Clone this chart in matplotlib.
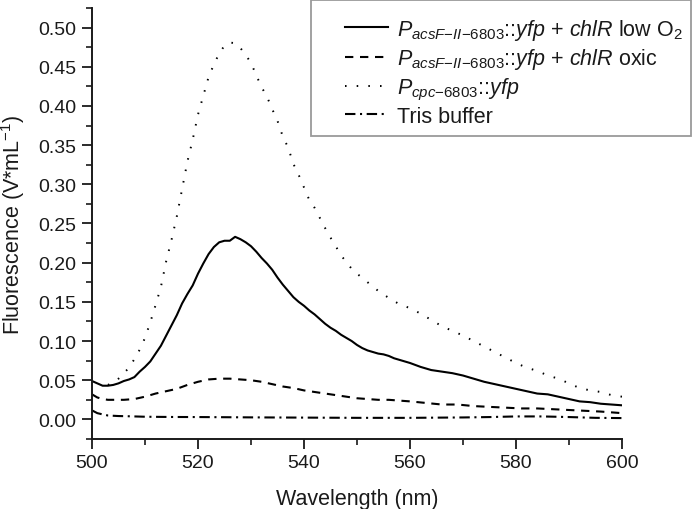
import matplotlib
matplotlib.use("Agg")
import matplotlib.pyplot as plt
from matplotlib.ticker import MultipleLocator
from matplotlib.patches import Rectangle

# ---------------- data ----------------
wl_low = [500, 501, 502, 503, 504, 505, 506, 507, 508, 509, 510, 511, 512, 513, 514,
          515, 516, 517, 518, 519, 520, 521, 522, 523, 524, 525, 526, 527, 528, 529,
          530, 531, 532, 533, 534, 535, 536, 537, 538, 539, 540, 541, 542, 543, 544,
          545, 546, 547, 548, 549, 550, 551, 552, 553, 554, 555, 556, 557, 558, 559,
          560, 562, 564, 566, 568, 570, 572, 574, 576, 578, 580, 582, 584, 586, 588,
          590, 592, 594, 596, 598, 600]
low_o2 = [0.049, 0.046, 0.043, 0.043, 0.044, 0.046, 0.049, 0.051, 0.054, 0.061, 0.067,
          0.074, 0.084, 0.094, 0.107, 0.120, 0.133, 0.148, 0.160, 0.171, 0.186, 0.199,
          0.211, 0.220, 0.226, 0.228, 0.228, 0.233, 0.230, 0.226, 0.221, 0.214, 0.206,
          0.199, 0.191, 0.181, 0.172, 0.164, 0.156, 0.150, 0.145, 0.139, 0.134, 0.128,
          0.122, 0.117, 0.113, 0.108, 0.104, 0.100, 0.095, 0.091, 0.088, 0.086, 0.084,
          0.083, 0.081, 0.078, 0.076, 0.074, 0.072, 0.067, 0.063, 0.061, 0.059, 0.056,
          0.052, 0.048, 0.045, 0.042, 0.039, 0.036, 0.033, 0.032, 0.029, 0.026, 0.023,
          0.022, 0.020, 0.019, 0.018]

wl_oxic = [500, 501, 502, 503, 504, 505, 506, 508, 510, 512, 514, 516, 518, 520, 522,
           524, 526, 528, 530, 532, 534, 536, 538, 540, 542, 544, 546, 548, 550, 552,
           554, 556, 558, 560, 563, 566, 569, 572, 575, 578, 581, 584, 587, 590, 593,
           596, 600]
oxic = [0.032, 0.028, 0.026, 0.025, 0.025, 0.025, 0.025, 0.026, 0.029, 0.033, 0.036,
        0.039, 0.044, 0.048, 0.051, 0.052, 0.052, 0.051, 0.050, 0.048, 0.045, 0.042,
        0.040, 0.037, 0.035, 0.033, 0.031, 0.029, 0.027, 0.026, 0.025, 0.025, 0.024,
        0.023, 0.021, 0.019, 0.019, 0.017, 0.016, 0.015, 0.014, 0.014, 0.013, 0.012,
        0.011, 0.010, 0.008]

wl_cpc = [503, 504, 505, 506, 507, 508, 509, 510, 511, 512, 513, 514, 515, 516, 517,
          518, 519, 520, 521, 522, 523, 524, 525, 526, 527, 528, 529, 530, 531, 532,
          533, 534, 535, 536, 537, 538, 539, 540, 541, 542, 543, 544, 545, 546, 547,
          548, 549, 550, 552, 554, 556, 558, 560, 562, 564, 566, 568, 570, 572, 574,
          576, 578, 580, 582, 584, 586, 588, 590, 592, 594, 596, 598, 600]
cpc = [0.044, 0.047, 0.052, 0.059, 0.066, 0.077, 0.089, 0.104, 0.124, 0.146, 0.169,
       0.202, 0.229, 0.259, 0.294, 0.329, 0.357, 0.389, 0.413, 0.437, 0.453, 0.467,
       0.477, 0.481, 0.480, 0.474, 0.465, 0.455, 0.439, 0.424, 0.412, 0.396, 0.381,
       0.361, 0.347, 0.326, 0.312, 0.296, 0.280, 0.270, 0.257, 0.244, 0.232, 0.221,
       0.209, 0.201, 0.192, 0.186, 0.175, 0.164, 0.155, 0.147, 0.142, 0.135, 0.127,
       0.119, 0.113, 0.107, 0.100, 0.093, 0.086, 0.079, 0.072, 0.066, 0.062, 0.056,
       0.052, 0.046, 0.040, 0.037, 0.035, 0.031, 0.029]

wl_tris = [500, 501, 502, 503, 505, 507, 510, 515, 520, 530, 540, 550, 560, 570, 575,
           580, 585, 590, 595, 600]
tris = [0.0115, 0.008, 0.0064, 0.005, 0.0043, 0.004, 0.0034, 0.0031, 0.003, 0.0026,
        0.0023, 0.002, 0.002, 0.0025, 0.003, 0.0038, 0.0038, 0.003, 0.002, 0.0017]

labels = [
    r'$\mathit{P}_{\mathit{acsF{-}II{-}6803}}$::$\mathit{yfp}$ + $\mathit{chlR}$ low O$_2$',
    r'$\mathit{P}_{\mathit{acsF{-}II{-}6803}}$::$\mathit{yfp}$ + $\mathit{chlR}$ oxic',
    r'$\mathit{P}_{\mathit{cpc{-}6803}}$::$\mathit{yfp}$',
    'Tris buffer',
]
xlabel = 'Wavelength (nm)'
ylabel = r'Fluorescence (V*mL$^{-1}$)'

# ---------------- style ----------------
plt.rcParams['font.family'] = ['Liberation Sans', 'DejaVu Sans']
plt.rcParams['mathtext.fontset'] = 'custom'
plt.rcParams['mathtext.rm'] = 'Liberation Sans'
plt.rcParams['mathtext.it'] = 'Liberation Sans:italic'
plt.rcParams['mathtext.bf'] = 'Liberation Sans:bold'

W, H = 693, 510
fig = plt.figure(figsize=(W / 100, H / 100), dpi=100)
ax = fig.add_axes([92 / W, 1 - 440 / H, 530 / W, 431 / H])

ink = '#1a1a1a'
lw = 1.5
l1, = ax.plot(wl_low, low_o2, color='black', lw=lw, ls='-')
l2, = ax.plot(wl_oxic, oxic, color='black', lw=lw, ls=(0, (4, 3.2)))
l3, = ax.plot(wl_cpc, cpc, color='black', lw=1.4, ls=(0, (0.8, 5.2)))
l4, = ax.plot(wl_tris, tris, color='black', lw=lw, ls=(0, (5, 2.2, 1, 2.2)))

ax.set_xlim(500, 600)
ax.set_ylim(-0.025, 0.525)
ax.xaxis.set_major_locator(MultipleLocator(20))
ax.xaxis.set_minor_locator(MultipleLocator(10))
ax.yaxis.set_major_locator(MultipleLocator(0.05))
ax.yaxis.set_minor_locator(MultipleLocator(0.025))
ax.yaxis.set_major_formatter(plt.FuncFormatter(lambda v, p: f'{v:.2f}'))

for s in ['top', 'right']:
    ax.spines[s].set_visible(False)
for s in ['left', 'bottom']:
    ax.spines[s].set_linewidth(1.4)
    ax.spines[s].set_color(ink)

ax.tick_params(axis='both', which='major', direction='out', length=7, width=1.3,
               labelsize=14, pad=4, colors=ink)
ax.tick_params(axis='both', which='minor', direction='out', length=4, width=1.2,
               colors=ink)

ax.set_xlabel(xlabel, fontsize=15.5, labelpad=12, color=ink)
ax.set_ylabel(ylabel, fontsize=15.5, labelpad=8, color=ink)

# legend frame drawn as a figure rectangle
frame = Rectangle((311 / W, 1 - 137 / H), 380 / W, 136 / H,
                  transform=fig.transFigure, facecolor='white',
                  edgecolor='#9a9a9a', lw=1.3, zorder=3)
fig.patches.append(frame)

leg = fig.legend([l1, l2, l3, l4], labels, loc='upper left',
                 bbox_to_anchor=(345 / W, 1 - 18 / H),
                 bbox_transform=fig.transFigure, borderaxespad=0, borderpad=0,
                 fontsize=15.5, frameon=False, handlelength=2.0, handletextpad=0.4,
                 labelspacing=0.2)
leg.set_zorder(5)
for t in leg.get_texts():
    t.set_color(ink)

fig.savefig('out.png', dpi=100)
